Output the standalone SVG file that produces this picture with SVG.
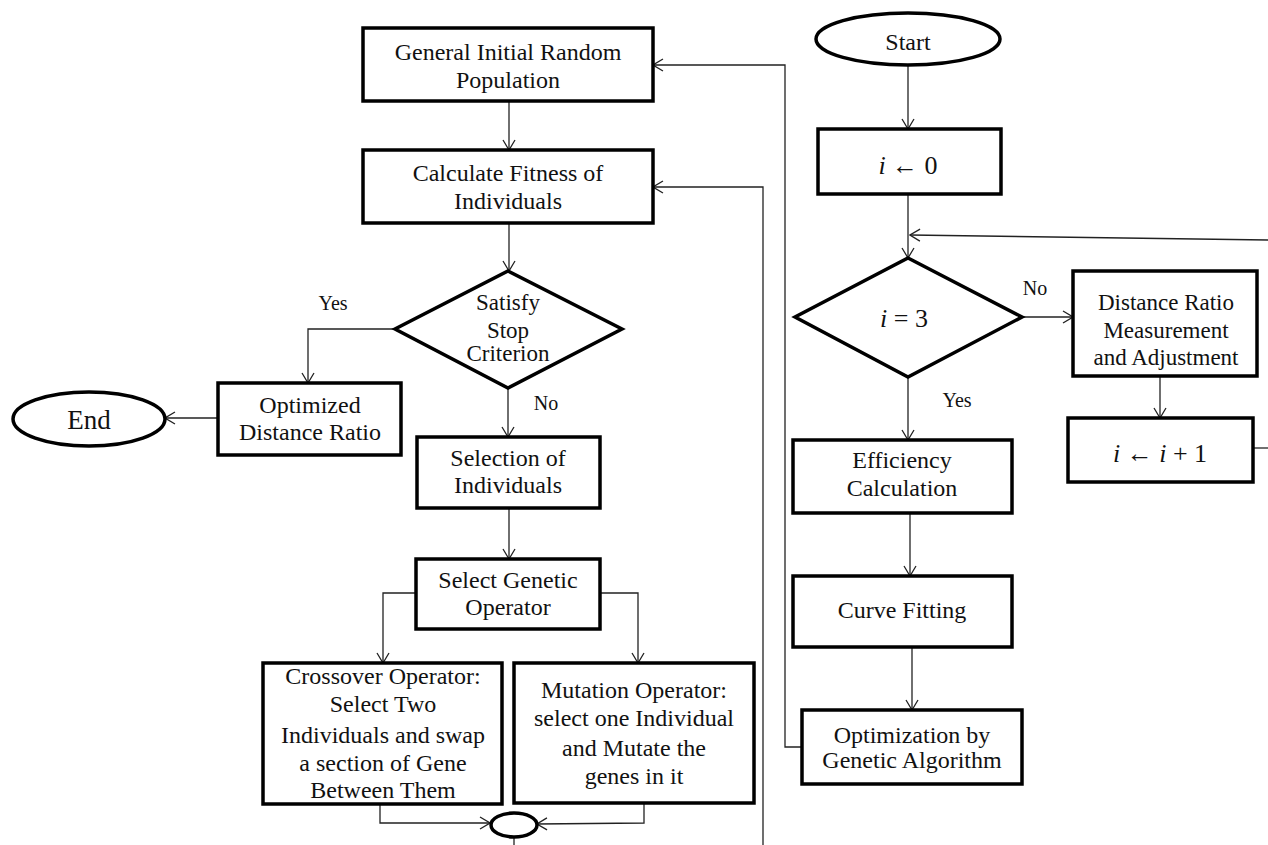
<svg xmlns="http://www.w3.org/2000/svg" width="1268" height="845" viewBox="0 0 1268 845">
<style>
.box{fill:#fff;stroke:#000;stroke-width:3.5}
.t{font-family:"Liberation Serif","Times New Roman",serif;font-size:24px;fill:#111;text-anchor:middle}
.s{font-size:23px}
.lbl{font-family:"Liberation Serif","Times New Roman",serif;font-size:20px;fill:#111;text-anchor:middle}
.m{font-family:"Liberation Serif","DejaVu Serif",serif;font-size:26px;fill:#111;text-anchor:middle}
.c{fill:none;stroke:#222;stroke-width:1.3}
</style>
<defs>
<marker id="ar" markerWidth="12" markerHeight="14" refX="11" refY="7" orient="auto" markerUnits="userSpaceOnUse">
<path d="M1,1 L11,7 L1,13" fill="none" stroke="#222" stroke-width="1.3"/>
</marker>
</defs>
<rect width="1268" height="845" fill="#fff"/>
<g id="connectors">
<line class="c" x1="509" y1="101" x2="509" y2="150" marker-end="url(#ar)"/>
<line class="c" x1="509" y1="223" x2="509" y2="271" marker-end="url(#ar)"/>
<polyline class="c" points="395,329 308,329 308,383" marker-end="url(#ar)"/>
<line class="c" x1="218" y1="418" x2="165" y2="418" marker-end="url(#ar)"/>
<line class="c" x1="508" y1="388" x2="508" y2="437" marker-end="url(#ar)"/>
<line class="c" x1="509" y1="508" x2="509" y2="559" marker-end="url(#ar)"/>
<polyline class="c" points="416,593 383,593 383,663" marker-end="url(#ar)"/>
<polyline class="c" points="600,593 638,593 638,663" marker-end="url(#ar)"/>
<polyline class="c" points="380,804 380,823 490,823" marker-end="url(#ar)"/>
<polyline class="c" points="644,803 644,823 537,824" marker-end="url(#ar)"/>
<line class="c" x1="514" y1="837" x2="514" y2="845"/>
<polyline class="c" points="763,845 763,187 653,187" marker-end="url(#ar)"/>
<polyline class="c" points="802,747 785,747 785,65 653,65" marker-end="url(#ar)"/>
<line class="c" x1="908" y1="65" x2="908" y2="129" marker-end="url(#ar)"/>
<line class="c" x1="908" y1="194" x2="908" y2="258" marker-end="url(#ar)"/>
<line class="c" x1="1268" y1="240" x2="910" y2="235" marker-end="url(#ar)"/>
<line class="c" x1="1022" y1="317" x2="1073" y2="317" marker-end="url(#ar)"/>
<line class="c" x1="908" y1="377" x2="908" y2="440" marker-end="url(#ar)"/>
<line class="c" x1="1160" y1="376" x2="1160" y2="418" marker-end="url(#ar)"/>
<line class="c" x1="1253" y1="448" x2="1268" y2="448"/>
<line class="c" x1="910" y1="513" x2="910" y2="576" marker-end="url(#ar)"/>
<line class="c" x1="912" y1="647" x2="912" y2="710" marker-end="url(#ar)"/>
</g>
<g id="labels">
<text class="lbl" x="333" y="310">Yes</text>
<text class="lbl" x="546" y="410">No</text>
<text class="lbl" x="1035" y="295">No</text>
<text class="lbl" x="957" y="407">Yes</text>
</g>
<g id="n-general">
<rect class="box" x="363" y="28" width="290" height="73"/>
<text class="t" x="508" y="60">General  Initial  Random</text>
<text class="t" x="508" y="88">Population</text>
</g>
<g id="n-fitness">
<rect class="box" x="363" y="150" width="290" height="73"/>
<text class="t" x="508" y="181">Calculate  Fitness  of</text>
<text class="t" x="508" y="209">Individuals</text>
</g>
<g id="n-stop">
<polygon class="box" points="508,271 622,329 508,388 395,329"/>
<text class="t s" x="508" y="310">Satisfy</text>
<text class="t s" x="508" y="338">Stop</text>
<text class="t s" x="508" y="361">Criterion</text>
</g>
<g id="n-optimized">
<rect class="box" x="218" y="383" width="183" height="72"/>
<text class="t" x="310" y="413">Optimized</text>
<text class="t" x="310" y="440">Distance  Ratio</text>
</g>
<g id="n-end">
<ellipse class="box" cx="89" cy="419" rx="76" ry="27"/>
<text class="t" x="89" y="429" style="font-size:27px">End</text>
</g>
<g id="n-selection">
<rect class="box" x="417" y="437" width="183" height="71"/>
<text class="t" x="508" y="466">Selection  of</text>
<text class="t" x="508" y="493">Individuals</text>
</g>
<g id="n-operator">
<rect class="box" x="416" y="559" width="184" height="70"/>
<text class="t" x="508" y="588">Select Genetic</text>
<text class="t" x="508" y="615">Operator</text>
</g>
<g id="n-crossover">
<rect class="box" x="263" y="663" width="239" height="141"/>
<text class="t" x="383" y="684">Crossover Operator:</text>
<text class="t" x="383" y="712">Select Two</text>
<text class="t" x="383" y="743">Individuals  and swap</text>
<text class="t" x="383" y="771">a section of Gene</text>
<text class="t" x="383" y="798">Between  Them</text>
</g>
<g id="n-mutation">
<rect class="box" x="514" y="663" width="240" height="140"/>
<text class="t" x="634" y="698">Mutation  Operator:</text>
<text class="t" x="634" y="726">select one Individual</text>
<text class="t" x="634" y="756">and Mutate the</text>
<text class="t" x="634" y="784">genes in it</text>
</g>
<g id="n-join">
<ellipse class="box" cx="514" cy="825" rx="23" ry="12"/>
</g>
<g id="n-start">
<ellipse class="box" cx="908" cy="39" rx="92" ry="26"/>
<text class="t" x="908" y="50">Start</text>
</g>
<g id="n-i0">
<rect class="box" x="818" y="129" width="183" height="65"/>
<text class="m" x="908" y="174"><tspan font-style="italic">i</tspan> ← 0</text>
</g>
<g id="n-i3">
<polygon class="box" points="908,258 1022,317 908,377 795,317"/>
<text class="m" x="904" y="327"><tspan font-style="italic">i</tspan> = 3</text>
</g>
<g id="n-distance">
<rect class="box" x="1073" y="271" width="184" height="105"/>
<text class="t s" x="1166" y="310">Distance Ratio</text>
<text class="t s" x="1166" y="338">Measurement</text>
<text class="t s" x="1166" y="365">and Adjustment</text>
</g>
<g id="n-inc">
<rect class="box" x="1068" y="418" width="185" height="64"/>
<text class="m" x="1160" y="462"><tspan font-style="italic">i</tspan> ← <tspan font-style="italic">i</tspan> + 1</text>
</g>
<g id="n-efficiency">
<rect class="box" x="793" y="440" width="219" height="73"/>
<text class="t" x="902" y="468">Efficiency</text>
<text class="t" x="902" y="496">Calculation</text>
</g>
<g id="n-curve">
<rect class="box" x="793" y="576" width="219" height="71"/>
<text class="t" x="902" y="618">Curve Fitting</text>
</g>
<g id="n-ga">
<rect class="box" x="802" y="710" width="220" height="74"/>
<text class="t" x="912" y="743">Optimization  by</text>
<text class="t" x="912" y="768">Genetic Algorithm</text>
</g>
</svg>
